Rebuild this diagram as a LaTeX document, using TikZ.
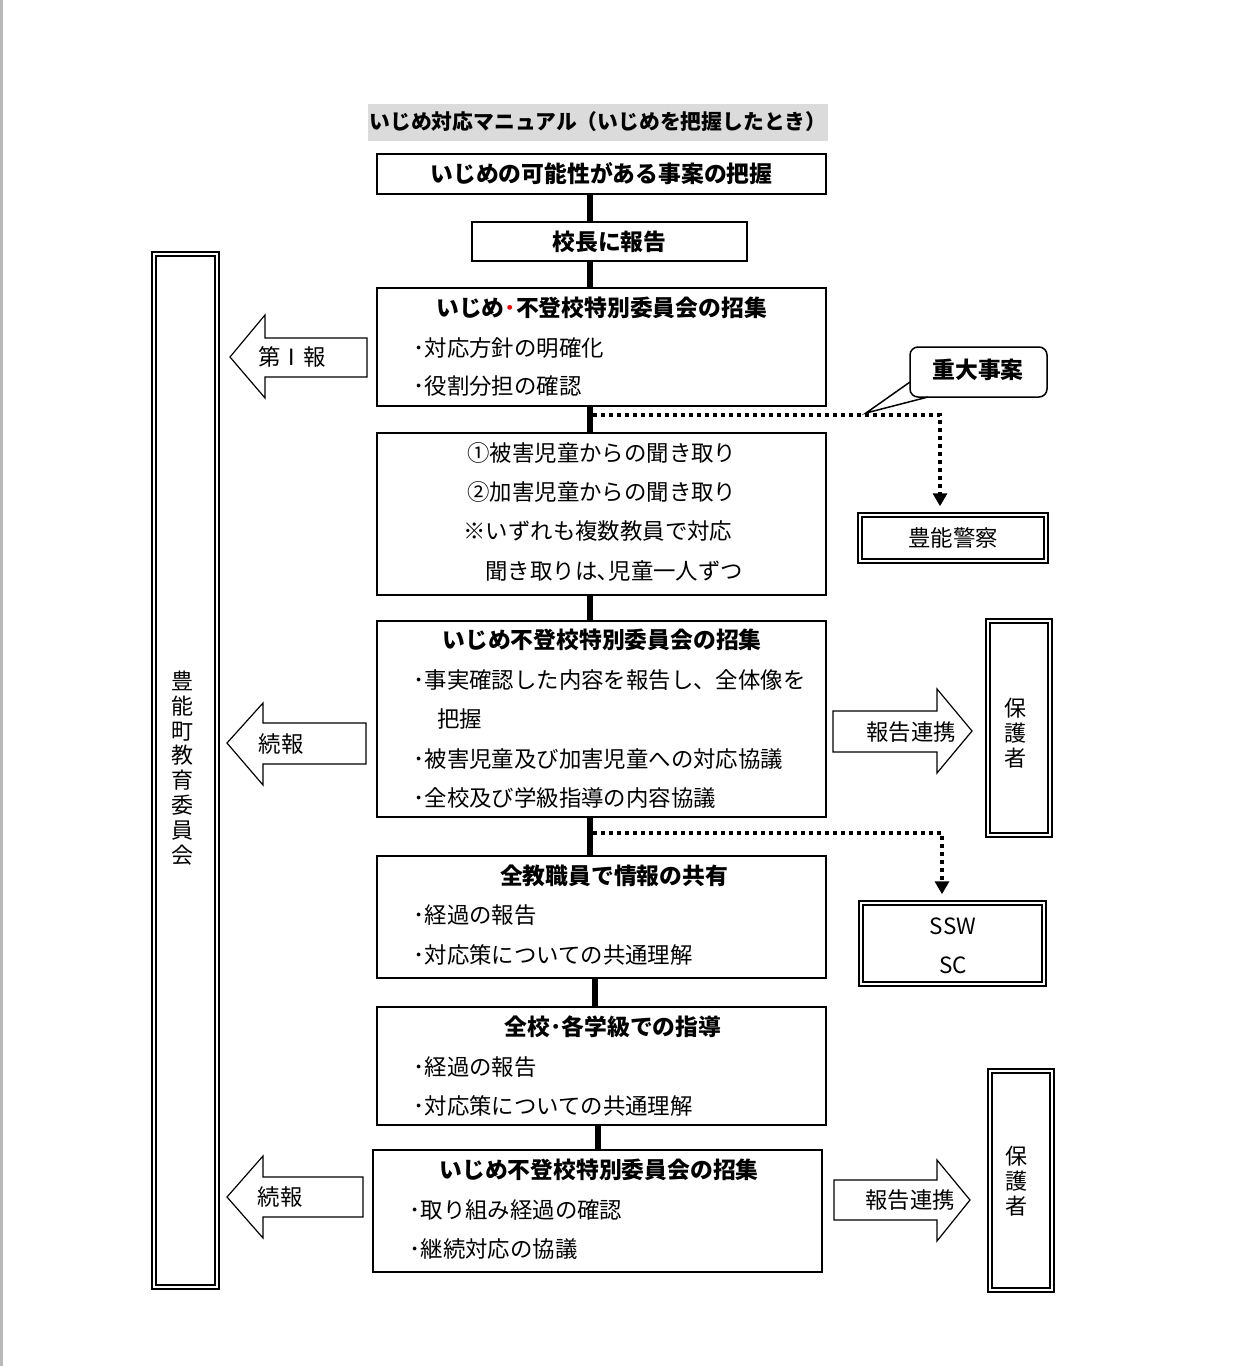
\documentclass[tikz,border=0pt]{standalone}
\usepackage{fontspec}
\setmainfont{Noto Sans CJK JP}
\usetikzlibrary{arrows.meta,calc}
\begin{document}
\begin{tikzpicture}[x=0.5pt,y=-0.5pt,
  box/.style={draw, line width=0.75pt, fill=white, inner sep=0pt, minimum width=224.5pt},
  dbox/.style={draw, double, double distance=1.4pt, line width=0.75pt, fill=white, inner sep=0pt},
  txt/.style={inner sep=0pt, font=\fontsize{11.2}{13}\selectfont},
  ttl/.style={inner sep=0pt, font=\fontsize{11.4}{13}\selectfont\bfseries},
  vtxt/.style={inner sep=0pt, align=center, font=\fontsize{11}{12.4}\selectfont},
  conn/.style={line width=2.6pt},
  dotarrow/.style={line width=2pt, dash pattern=on 2pt off 2pt, -{Triangle[length=6.5pt,width=7pt]}, shorten >=4pt},
  bigarrow/.style={draw, line width=0.6pt, fill=white, line join=miter}
]
\useasboundingbox (0,0) rectangle (1246,1366);
\fill[gray!55] (0,0) rectangle (3,1366);

% title
\node[fill=gray!28, minimum width=230pt, minimum height=18.5pt, inner sep=0pt] (title) at (598,122.5) {};
\node[ttl, font=\fontsize{10.4}{12}\selectfont\bfseries] (titletxt) at (598,122) {いじめ対応マニュアル（いじめを把握したとき）};

% main flow boxes
\node[box, minimum height=20pt] (b1) at (601.5,174) {};
\node[ttl] (b1t) at (601.5,174) {いじめの可能性がある事案の把握};

\node[box, minimum width=137.5pt, minimum height=19.5pt] (b2) at (609.5,241.5) {};
\node[ttl] (b2t) at (609.5,241.5) {校長に報告};

\node[box, minimum height=59pt] (b3) at (601.5,347) {};
\node[ttl] (b3t) at (601.5,308) {いじめ{\color{red}･}不登校特別委員会の招集};
\node[txt, anchor=west] (b3a) at (413,348) {･対応方針の明確化};
\node[txt, anchor=west] (b3b) at (413,386) {･役割分担の確認};

\node[box, minimum height=81pt] (b4) at (601.5,514) {};
\node[txt, anchor=west] (b4a) at (467,453) {①被害児童からの聞き取り};
\node[txt, anchor=west] (b4b) at (467,492) {②加害児童からの聞き取り};
\node[txt, anchor=west] (b4c) at (463,531) {※いずれも複数教員で対応};
\node[txt, anchor=west] (b4d) at (485,571) {聞き取りは､児童一人ずつ};

\node[box, minimum height=98pt] (b5) at (601.5,719) {};
\node[ttl] (b5t) at (602,640) {いじめ不登校特別委員会の招集};
\node[txt, anchor=west] (b5a) at (413,680) {･事実確認した内容を報告し、全体像を};
\node[txt, anchor=west] (b5b) at (437,719) {把握};
\node[txt, anchor=west] (b5c) at (413,759) {･被害児童及び加害児童への対応協議};
\node[txt, anchor=west] (b5d) at (413,798) {･全校及び学級指導の内容協議};

\node[box, minimum height=61pt] (b6) at (601.5,917) {};
\node[ttl] (b6t) at (614,876) {全教職員で情報の共有};
\node[txt, anchor=west] (b6a) at (413,915) {･経過の報告};
\node[txt, anchor=west] (b6b) at (413,955) {･対応策についての共通理解};

\node[box, minimum height=59pt] (b7) at (601.5,1066) {};
\node[ttl] (b7t) at (613,1027) {全校･各学級での指導};
\node[txt, anchor=west] (b7a) at (413,1067) {･経過の報告};
\node[txt, anchor=west] (b7b) at (413,1106) {･対応策についての共通理解};

\node[box, minimum height=61pt] (b8) at (597.5,1211) {};
\node[ttl] (b8t) at (599,1170) {いじめ不登校特別委員会の招集};
\node[txt, anchor=west] (b8a) at (409,1210) {･取り組み経過の確認};
\node[txt, anchor=west] (b8b) at (409,1249) {･継続対応の協議};

% connectors
\coordinate (c1) at (590,0);
\coordinate (c2) at (595,0);
\coordinate (c3) at (598,0);
\draw[conn] (b1.south -| c1) -- (b2.north -| c1);
\draw[conn] (b2.south -| c1) -- (b3.north -| c1);
\draw[conn] (b3.south -| c1) -- (b4.north -| c1);
\draw[conn] (b4.south -| c1) -- (b5.north -| c1);
\draw[conn] (b5.south -| c1) -- (b6.north -| c1);
\draw[conn] (b6.south -| c2) -- (b7.north -| c2);
\draw[conn] (b7.south -| c3) -- (b8.north -| c3);

% left board
\node[dbox, minimum width=31.5pt, minimum height=516.5pt] (board) at (185.5,770.5) {};
\node[vtxt] (boardt) at (182,768) {豊\\能\\町\\教\\育\\委\\員\\会};

% right boxes
\node[dbox, minimum width=93pt, minimum height=23pt] (police) at (953,538) {};
\node[txt] (policet) at (953,538) {豊能警察};

\node[dbox, minimum width=91.5pt, minimum height=40.5pt] (ssw) at (952.5,943.5) {};
\node[txt] (sswt) at (953,926) {SSW};
\node[txt] (sct) at (953,965) {SC};

\node[dbox, minimum width=31pt, minimum height=107pt] (parent1) at (1019,728) {};
\node[vtxt] (parent1t) at (1015,733) {保\\護\\者};
\node[dbox, minimum width=31pt, minimum height=109.5pt] (parent2) at (1021,1180.5) {};
\node[vtxt] (parent2t) at (1016,1181) {保\\護\\者};

% callout
\node[draw, line width=0.75pt, rounded corners=4pt, fill=white, minimum width=68.5pt, minimum height=25pt, inner sep=0pt] (jd) at (978.5,372) {};
\node[ttl] (jdt) at (978,370) {重大事案};
\coordinate (jtip) at (866,413);
\fill[white] (jtip) -- (908,381) -- (908,399) -- (930,399) -- cycle;
\draw[line width=0.75pt] (910,382) -- (jtip) -- (928,397);

% dotted arrows
\coordinate (p1) at (593,415);
\coordinate (q1) at (940,415);
\draw[dotarrow] (p1) -- (q1) -- (police.north -| q1);
\coordinate (p2) at (593,833);
\coordinate (q2) at (942,833);
\draw[dotarrow] (p2) -- (q2) -- (ssw.north -| q2);

% big arrows
\draw[bigarrow] (367,338) -- (265,338) -- (265,315) -- (230,357) -- (265,398) -- (265,377) -- (367,377) -- cycle;
\node[txt] (a1) at (292,357) {第Ⅰ報};
\draw[bigarrow] (366,723) -- (263,723) -- (263,703) -- (227,743) -- (263,785) -- (263,764) -- (366,764) -- cycle;
\node[txt] (a2) at (281,744) {続報};
\draw[bigarrow] (363,1177) -- (263,1177) -- (263,1156) -- (227,1197) -- (263,1238) -- (263,1217) -- (363,1217) -- cycle;
\node[txt] (a3) at (280,1197) {続報};
\draw[bigarrow] (833,711) -- (937,711) -- (937,689) -- (972,731) -- (937,773) -- (937,752) -- (833,752) -- cycle;
\node[txt] (a4) at (911,732) {報告連携};
\draw[bigarrow] (834,1180) -- (937,1180) -- (937,1160) -- (970,1200) -- (937,1241) -- (937,1220) -- (834,1220) -- cycle;
\node[txt] (a5) at (910,1200) {報告連携};
\end{tikzpicture}
\end{document}
